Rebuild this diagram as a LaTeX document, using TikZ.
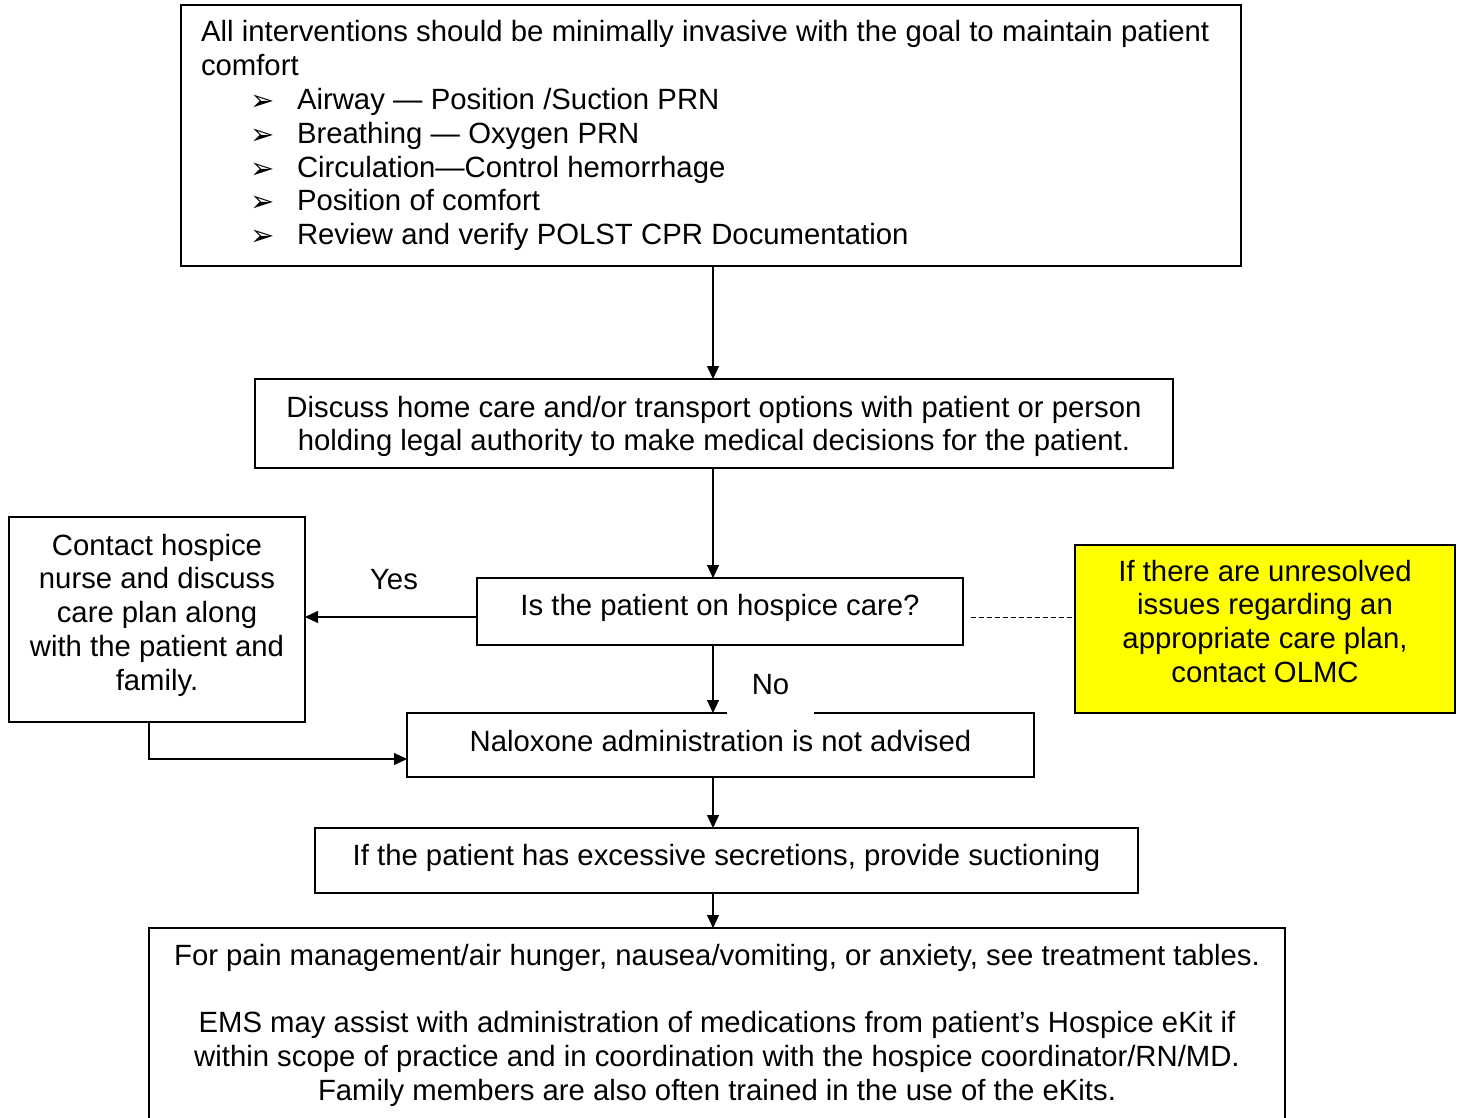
\documentclass[tikz,border=0pt]{standalone}
\usepackage{fontspec}
\setmainfont{Liberation Sans}
\newfontfamily\dejavu{DejaVu Sans}
\usetikzlibrary{arrows.meta}
\definecolor{yel}{RGB}{255,255,0}
\newcommand\Up[1]{\rule{0pt}{#1pt}}
\newcommand\Dn[1]{\rule[-#1pt]{0pt}{#1pt}}
\newcommand\tightsp{\spaceskip=8.3pt\relax}
\newcommand\bul{\hspace*{49pt}\makebox[47pt][l]{\raisebox{-1pt}{\dejavu\fontsize{29}{29}\selectfont ➢}}}
\begin{document}
\begin{tikzpicture}[x=1pt,y=-1pt, font=\fontsize{29.3}{33.8}\selectfont,
  box/.style={draw, line width=1.8pt, inner sep=0pt, outer sep=0pt, align=center},
  arr/.style={line width=1.2pt, -{Triangle[length=13pt,width=12pt]}},
  dline/.style={line width=0.9pt, dash pattern=on 5pt off 3pt},
  lbl/.style={inner sep=0pt, anchor=base}]
\useasboundingbox (0,0) rectangle (1460,1118);
\clip (0,0) rectangle (1460,1118);
\fill[white] (0,0) rectangle (1460,1118);

\node[box, minimum width=1060pt, minimum height=261pt, text width=1020pt, inner xsep=20pt, align=left] (top) at (711,135.5)
 {\tightsp\Up{22}\makebox[1020pt][l]{All interventions should be minimally invasive with the goal to maintain patient}\\
  comfort\\
  \bul Airway — Position /Suction PRN\\
  \bul Breathing — Oxygen PRN\\
  \bul Circulation—Control hemorrhage\\
  \bul Position of comfort\\
  \bul Review and verify POLST CPR Documentation\Dn{6.2}};

\node[box, minimum width=918pt, minimum height=89pt] (disc) at (714,423.5)
 {\Up{27}Discuss home care and/or transport options with patient or person\\
  holding legal authority to make medical decisions for the patient.\Dn{6.2}};

\node[box, minimum width=486pt, minimum height=67pt] (q) at (720,611.5)
 {\Up{22}Is the patient on hospice care?\Dn{15}};

\node[box, minimum width=296pt, minimum height=205pt] (hosp) at (157,619.5)
 {\Up{22}Contact hospice\\nurse and discuss\\care plan along\\with the patient and\\family.\Dn{15.8}};

\node[box, fill=yel, minimum width=380pt, minimum height=168pt] (olmc) at (1265,629)
 {\Up{22}If there are unresolved\\issues regarding an\\appropriate care plan,\\contact OLMC\Dn{16.6}};

\node[box, minimum width=627pt, minimum height=64pt] (nal) at (720.5,745)
 {\Up{22}Naloxone administration is not advised\Dn{10}};

\node[box, minimum width=823pt, minimum height=65pt] (suc) at (726.5,860.5)
 {\Up{22}If the patient has excessive secretions, provide suctioning\Dn{13}};

\node[box, minimum width=1136pt, minimum height=197pt] (pain) at (717,1026.5)
 {\Up{22}For pain management/air hunger, nausea/vomiting, or anxiety, see treatment tables.\\[33.8pt]
  EMS may assist with administration of medications from patient’s Hospice eKit if\\
  within scope of practice and in coordination with the hospice coordinator/RN/MD.\\
  Family members are also often trained in the use of the eKits.\Dn{9.8}};

\coordinate (spine) at (713,0);
\draw[arr] (top.south -| spine) -- (disc.north -| spine);
\draw[arr] (disc.south -| spine) -- (q.north -| spine);
\draw[arr] (q.south -| spine) -- (nal.north -| spine);
\draw[arr] (nal.south -| spine) -- (suc.north -| spine);
\draw[arr] (suc.south -| spine) -- (pain.north -| spine);

\coordinate (qy) at ([yshift=-5.5pt]q.west);
\draw[arr] (qy) -- (hosp.east |- qy);

\coordinate (qd) at ([xshift=8pt,yshift=-5.5pt]q.east);
\draw[dline] (qd) -- (olmc.west |- qd);

\coordinate (hs) at ([xshift=-8pt]hosp.south);
\coordinate (ny) at ([yshift=-14pt]nal.west);
\draw[arr] (hs) |- (ny);

\node[lbl] (yes) at (394,589) {Yes};
\node[anchor=base, fill=white, inner sep=0pt, minimum width=87pt] (no) at (770.5,694) {\Up{22}No\Dn{21.5}};
\end{tikzpicture}
\end{document}
